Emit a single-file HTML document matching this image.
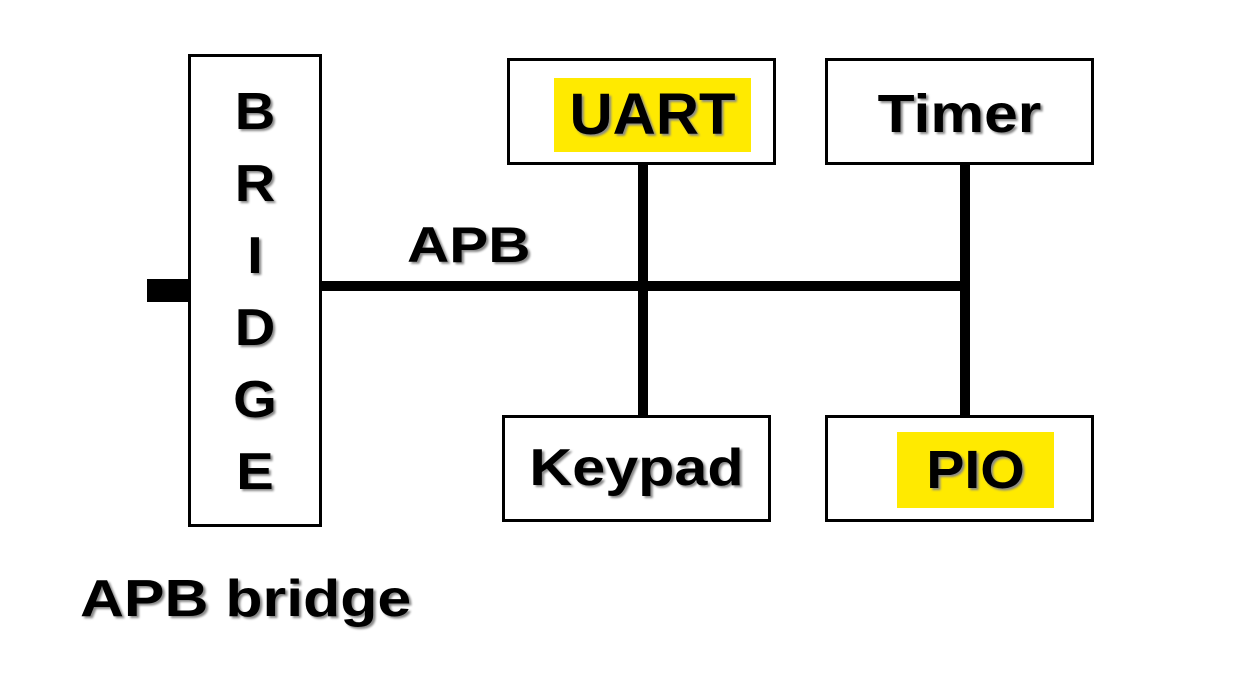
<!DOCTYPE html>
<html><head><style>
body{margin:0;width:1241px;height:686px;background:#fff;position:relative;overflow:hidden;font-family:"Liberation Sans",Arial,sans-serif;font-weight:bold;color:#000}
.b{position:absolute;border:3px solid #000;box-sizing:border-box;background:#fff}
.t{position:absolute;text-align:center;line-height:1;text-shadow:2px 2px 2px #888;white-space:nowrap}
.l{position:absolute;background:#000}
.y{position:absolute;background:#ffea00}
</style></head><body>
<div class="l" style="left:147px;top:279px;width:42px;height:23px"></div>
<div class="l" style="left:320px;top:281px;width:650px;height:10px"></div>
<div class="l" style="left:638px;top:162px;width:10px;height:256px"></div>
<div class="l" style="left:960px;top:162px;width:10px;height:256px"></div>
<div class="b" style="left:188px;top:54px;width:134px;height:473px"></div>
<div class="t" style="left:188px;width:134px;top:76px;font-size:52px;line-height:72px;transform:scaleX(1.08)">B<br>R<br>I<br>D<br>G<br>E</div>
<div class="b" style="left:507px;top:58px;width:269px;height:107px"></div>
<div class="y" style="left:554px;top:78px;width:197px;height:74px"></div>
<div class="t" style="left:554px;width:197px;top:86px;font-size:58px;transform:scaleX(1.03)">UART</div>
<div class="b" style="left:825px;top:58px;width:269px;height:107px"></div>
<div class="t" style="left:825px;width:269px;top:87px;font-size:54px;transform:scaleX(1.12)">Timer</div>
<div class="b" style="left:502px;top:415px;width:269px;height:107px"></div>
<div class="t" style="left:502px;width:269px;top:442px;font-size:52px;transform:scaleX(1.14)">Keypad</div>
<div class="b" style="left:825px;top:415px;width:269px;height:107px"></div>
<div class="y" style="left:897px;top:432px;width:157px;height:76px"></div>
<div class="t" style="left:897px;width:157px;top:443px;font-size:54px;transform:scaleX(1.06)">PIO</div>
<div class="t" style="left:407px;top:220px;font-size:50px;transform:scaleX(1.17);transform-origin:left">APB</div>
<div class="t" style="left:80px;top:573px;font-size:52px;transform:scaleX(1.17);transform-origin:left">APB bridge</div>
</body></html>
